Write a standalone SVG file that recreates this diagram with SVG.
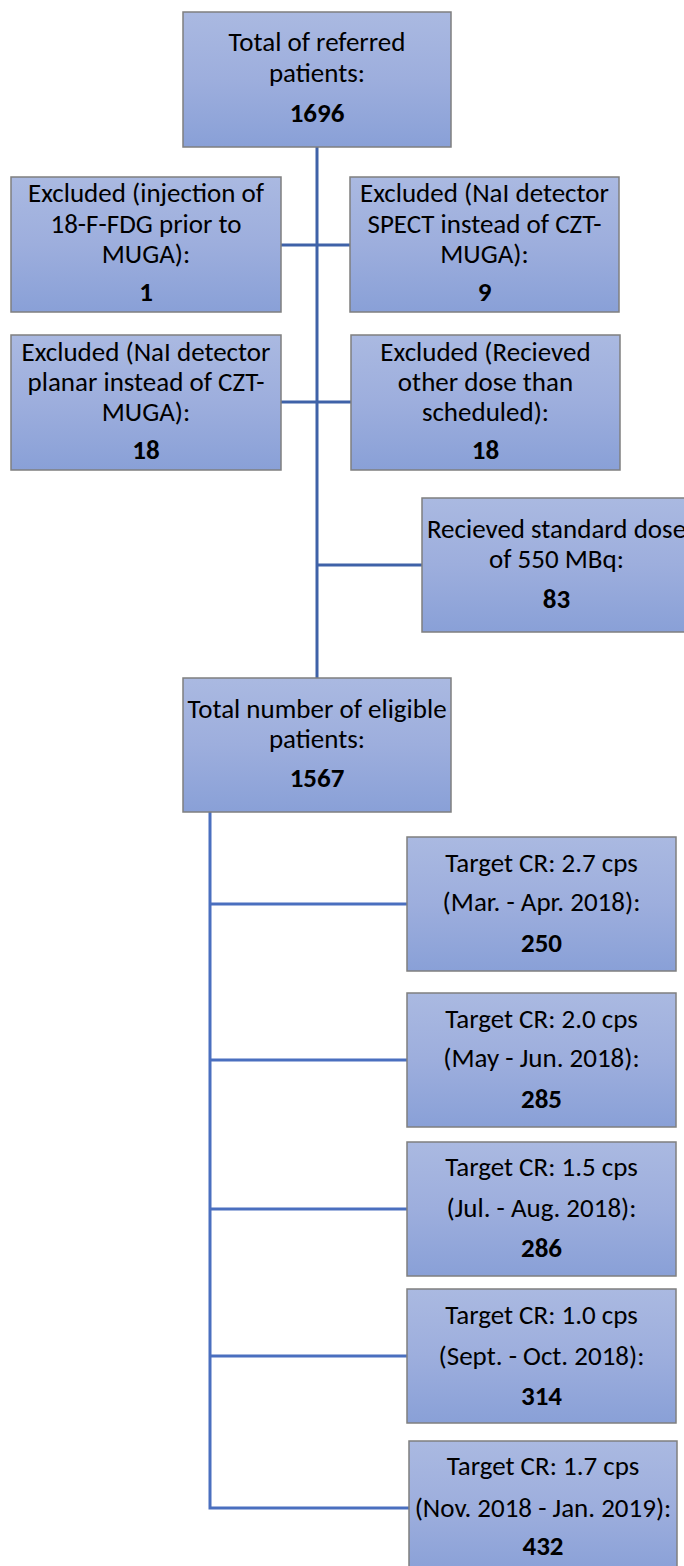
<svg xmlns="http://www.w3.org/2000/svg" width="684" height="1566" viewBox="0 0 684 1566">
<defs>
<linearGradient id="g" x1="0" y1="0" x2="0" y2="1">
<stop offset="0" stop-color="#AAB9E1"/>
<stop offset="0.5" stop-color="#9DAEDD"/>
<stop offset="1" stop-color="#89A0D7"/>
</linearGradient>
<style>
.box{fill:url(#g);stroke:#7F7F7F;stroke-width:1.5}
text{font-family:Carlito,Lato,"Liberation Sans",sans-serif;font-size:27px;fill:#000;text-anchor:middle}
.n{font-weight:bold}
.c{fill:none;stroke:#3F62A8;stroke-width:3}
.c2{fill:none;stroke:#4A6FBF;stroke-width:3}
</style>
</defs>
<rect width="684" height="1566" fill="#fff"/>
<g id="connectors">
<path class="c" d="M317 147V678"/>
<path class="c" d="M281 245H350"/>
<path class="c" d="M281 402H351"/>
<path class="c" d="M317 565H422"/>
<path class="c2" d="M210 812V1508H409"/>
<path class="c2" d="M210 904H407"/>
<path class="c2" d="M210 1060H407"/>
<path class="c2" d="M210 1209H407"/>
<path class="c2" d="M210 1356H407"/>
</g>
<g id="n1">
<rect class="box" x="183" y="12" width="268" height="135"/>
<text x="317" y="51">Total of referred</text>
<text x="317" y="82">patients:</text>
<text class="n" x="317" y="122">1696</text>
</g>
<g id="n2">
<rect class="box" x="11" y="177" width="270" height="135"/>
<text x="146" y="202">Excluded (injection of</text>
<text x="146" y="233">18-F-FDG prior to</text>
<text x="146" y="263">MUGA):</text>
<text class="n" x="146" y="301">1</text>
</g>
<g id="n3">
<rect class="box" x="350" y="177" width="269" height="135"/>
<text x="484.5" y="202">Excluded (NaI detector</text>
<text x="484.5" y="233">SPECT instead of CZT-</text>
<text x="484.5" y="263">MUGA):</text>
<text class="n" x="484.5" y="301">9</text>
</g>
<g id="n4">
<rect class="box" x="11" y="335" width="270" height="135"/>
<text x="146" y="361">Excluded (NaI detector</text>
<text x="146" y="391">planar instead of CZT-</text>
<text x="146" y="421">MUGA):</text>
<text class="n" x="146" y="459">18</text>
</g>
<g id="n5">
<rect class="box" x="351" y="335" width="269" height="135"/>
<text x="485.5" y="361">Excluded (Recieved</text>
<text x="485.5" y="391">other dose than</text>
<text x="485.5" y="421">scheduled):</text>
<text class="n" x="485.5" y="459">18</text>
</g>
<g id="n6">
<rect class="box" x="422" y="498" width="269" height="134"/>
<text x="556.5" y="538">Recieved standard dose</text>
<text x="556.5" y="568">of 550 MBq:</text>
<text class="n" x="556.5" y="608">83</text>
</g>
<g id="n7">
<rect class="box" x="183" y="678" width="268" height="134"/>
<text x="317" y="718">Total number of eligible</text>
<text x="317" y="748">patients:</text>
<text class="n" x="317" y="787">1567</text>
</g>
<g id="n8">
<rect class="box" x="407" y="837" width="269" height="134"/>
<text x="541.5" y="872">Target CR: 2.7 cps</text>
<text x="541.5" y="911">(Mar. - Apr. 2018):</text>
<text class="n" x="541.5" y="952">250</text>
</g>
<g id="n9">
<rect class="box" x="407" y="993" width="269" height="134"/>
<text x="541.5" y="1028">Target CR: 2.0 cps</text>
<text x="541.5" y="1067">(May - Jun. 2018):</text>
<text class="n" x="541.5" y="1108">285</text>
</g>
<g id="n10">
<rect class="box" x="407" y="1142" width="269" height="134"/>
<text x="541.5" y="1176">Target CR: 1.5 cps</text>
<text x="541.5" y="1217">(Jul. - Aug. 2018):</text>
<text class="n" x="541.5" y="1257">286</text>
</g>
<g id="n11">
<rect class="box" x="407" y="1289" width="269" height="134"/>
<text x="541.5" y="1324">Target CR: 1.0 cps</text>
<text x="541.5" y="1365">(Sept. - Oct. 2018):</text>
<text class="n" x="541.5" y="1405">314</text>
</g>
<g id="n12">
<rect class="box" x="409" y="1441" width="268" height="134"/>
<text x="543" y="1475">Target CR: 1.7 cps</text>
<text x="543" y="1517">(Nov. 2018 - Jan. 2019):</text>
<text class="n" x="543" y="1555">432</text>
</g>
</svg>
